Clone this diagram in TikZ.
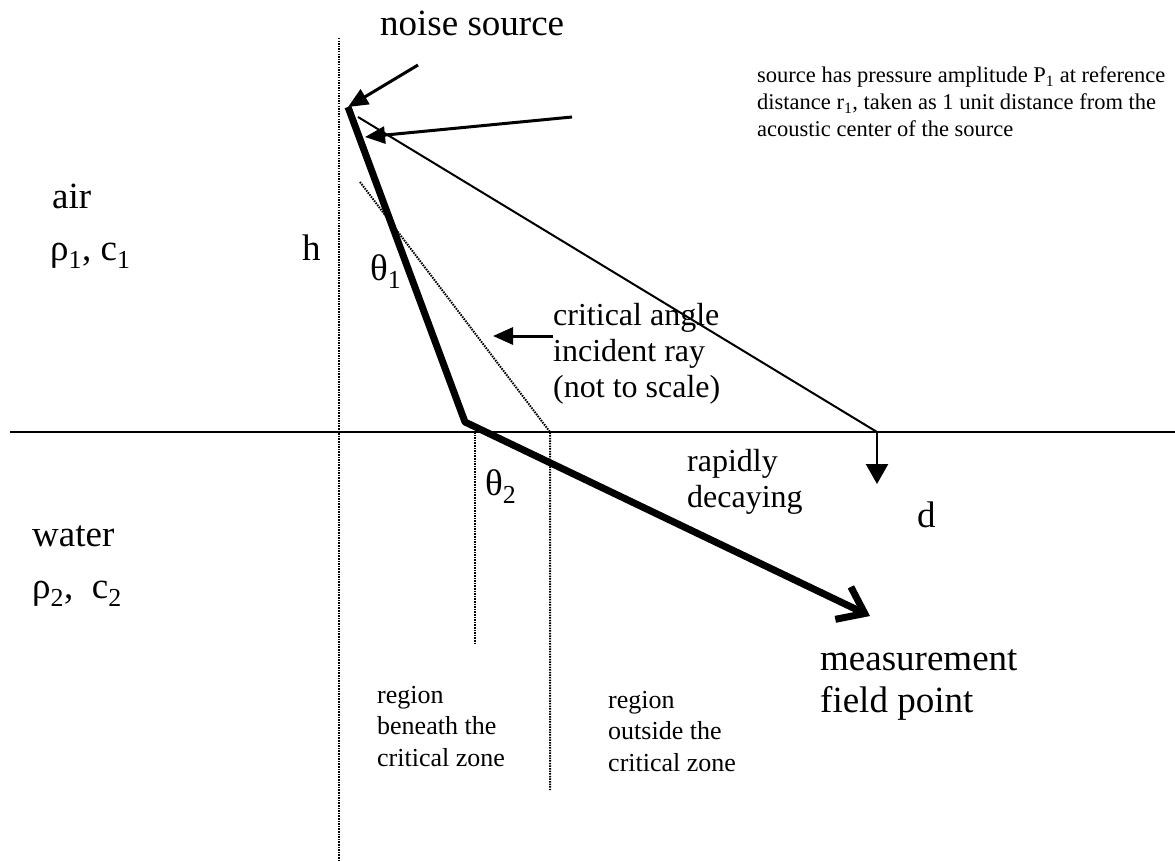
\documentclass[tikz,border=0pt]{standalone}
\usepackage{fontspec}
\setmainfont{Liberation Serif}
\usetikzlibrary{
  arrows.meta,
  positioning,
  calc
}
\definecolor{rayInk}{HTML}{000000}
\definecolor{guideInk}{HTML}{000000}
\tikzset{
  lbl/.style={anchor=base west, inner sep=0pt, align=left},
  biglbl/.style={lbl, font=\fontsize{37}{42}\selectfont},
  midlbl/.style={lbl, font=\fontsize{32}{36}\selectfont},
  notelbl/.style={lbl, font=\fontsize{22.5}{27}\selectfont},
  zonelbl/.style={lbl, font=\fontsize{26}{31.5}\selectfont},
  interface/.style={line width=2pt, rayInk},
  guide/.style={line width=2pt, guideInk, dash pattern=on 1.5pt off 1.1pt},
  ray/.style={line width=7pt, rayInk, line join=round, -{Straight Barb[length=24pt,width=36pt]}},
  direct/.style={line width=2pt, rayInk},
  pointer/.style={line width=3pt, rayInk, -{Triangle[length=20pt,width=17pt]}},
  drop/.style={line width=2.5pt, rayInk, -{Triangle[length=20pt,width=22pt]}}
}

\begin{document}
\begin{tikzpicture}[x=1pt, y=-1pt]
  \useasboundingbox (0,0) rectangle (1175,861);

  % geometry
  \coordinate (axtop) at (339,38);
  \coordinate (axbot) at (339,861);
  \coordinate (ifl) at (10,432);
  \coordinate (ifr) at (1175,432);
  \coordinate (src) at (348,107);
  \coordinate (srcc) at (358,117);
  \coordinate (kink) at (465,422);
  \coordinate (field) at (870,616);
  \coordinate (surf) at (877,432);
  \coordinate (dtip) at (877,484);
  \coordinate (crit0) at (360,182);
  \coordinate (crit1) at (550,432);
  \coordinate (critbot) at (550,790);
  \coordinate (normtop) at (475,432);
  \coordinate (normbot) at (475,645);

  % labels (multi-line ones sit on their last baseline)
  \node[biglbl] (nslbl) at (380,36) {noise source};
  \node[notelbl] (notelbl) at (757,137) {source has pressure amplitude P\textsubscript{1} at reference\\distance r\textsubscript{1}, taken as 1 unit distance from the\\acoustic center of the source};
  \node[biglbl] (airlbl) at (52,208) {air};
  \node[biglbl] (airprop) at (50,260) {ρ\textsubscript{1}, c\textsubscript{1}};
  \node[biglbl] (hlbl) at (302,260) {h};
  \node[biglbl] (th1) at (370,280) {θ\textsubscript{1}};
  \node[midlbl] (critlbl) at (553,397) {critical angle\\incident ray\\(not to scale)};
  \node[midlbl] (decay) at (687,507) {rapidly\\decaying};
  \node[biglbl] (th2) at (485,495) {θ\textsubscript{2}};
  \node[biglbl] (dlbl) at (917,527) {d};
  \node[biglbl] (waterlbl) at (32,546) {water};
  \node[biglbl] (waterprop) at (32,598) {ρ\textsubscript{2},\ \ c\textsubscript{2}};
  \node[biglbl] (fieldlbl) at (820,712) {measurement\\field point};
  \node[zonelbl] (inzone) at (377,766) {region\\beneath the\\critical zone};
  \node[zonelbl] (outzone) at (608,771) {region\\outside the\\critical zone};

  % pointer tails
  \coordinate (nstail) at (418,65);
  \coordinate (notetail) at (572,117);
  \coordinate (notetip) at (365,137);
  \coordinate (crittail) at (553,336);
  \coordinate (crittip) at (493,336);

  \draw[guide] (axtop) -- (axbot);
  \draw[interface] (ifl) -- (ifr);
  \draw[guide] (crit0) -- (crit1) -- (critbot);
  \draw[guide] (normtop) -- (normbot);
  \draw[direct] (srcc) -- (surf);
  \draw[drop] (surf) -- (dtip);
  \draw[ray] (src) -- (kink) -- (field);
  \draw[pointer] (nstail) -- (src);
  \draw[pointer] (notetail) -- (notetip);
  \draw[pointer] (crittail) -- (crittip);
\end{tikzpicture}
\end{document}
